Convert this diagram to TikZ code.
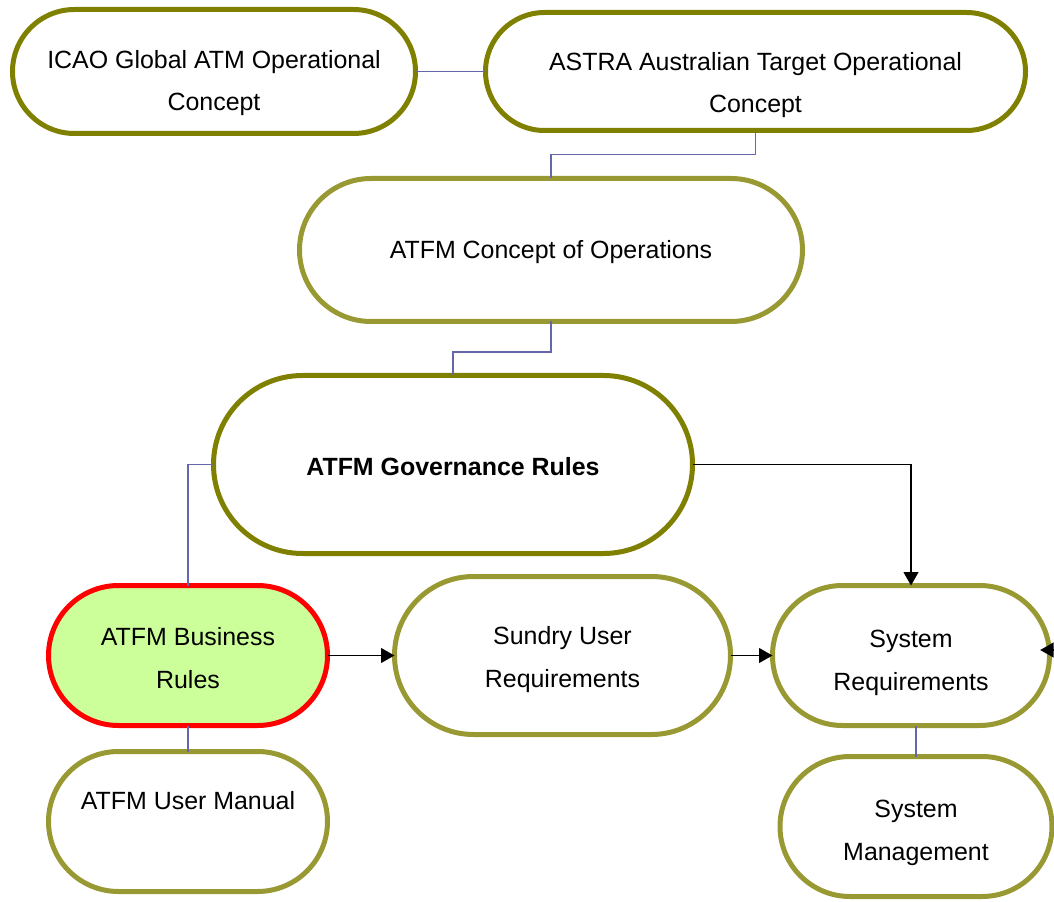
\documentclass[tikz,border=0pt]{standalone}
\usepackage{fontspec}
\setmainfont{Liberation Sans}
\usetikzlibrary{arrows.meta,positioning,shapes.misc}
\definecolor{oliveDark}{RGB}{128,128,0}
\definecolor{oliveLight}{RGB}{153,153,51}
\definecolor{linkBlue}{RGB}{102,102,170}
\definecolor{ruleFill}{RGB}{204,255,153}

\begin{document}
\begin{tikzpicture}[
    x=0.75pt,y=-0.75pt,
    node distance=20pt,
    sink/.style={execute at begin node={\rule{0pt}{#1}}},
    stage/.style={rounded rectangle,draw=oliveDark,line width=3.75pt,fill=white,outer sep=0pt,
                  inner sep=0pt,align=center,font=\fontsize{18.7}{32}\selectfont},
    minor/.style={stage,draw=oliveLight},
    link/.style={draw=linkBlue,line width=1.1pt},
    arrow/.style={-{Triangle[length=10pt,width=11pt]},line width=1.2pt,draw=black}
  ]
    \useasboundingbox (0,0) rectangle (1054,902);
    \node[stage,sink=63pt,minimum width=302.25pt,minimum height=93pt] (icao) at (214,71.5)
          {ICAO Global ATM Operational\\Concept};
    \node[stage,sink=66pt,minimum width=405pt,minimum height=88.5pt,right=52.5pt of icao] (astra)
          {ASTRA Australian Target Operational\\Concept};
    \node[minor,sink=16pt,minimum width=377.25pt,minimum height=107.25pt] (concept) at (551,250)
          {ATFM Concept of Operations};
    \node[stage,sink=16pt,minimum width=359.25pt,minimum height=133.5pt,
          font=\fontsize{18.7}{32}\selectfont\bfseries] (gov) at (453,464.5)
          {ATFM Governance Rules};
    \node[stage,sink=49pt,draw=red,fill=ruleFill,minimum width=209.25pt,minimum height=105pt]
          (business) at (188,655.5) {ATFM Business\\Rules};
    \node[minor,sink=52pt,minimum width=252pt,minimum height=118.5pt,right=50.25pt of business]
          (sundry) {Sundry User\\Requirements};
    \node[minor,sink=56pt,minimum width=207.75pt,minimum height=105pt,right=31.5pt of sundry]
          (sysreq) {System\\Requirements};
    \node[minor,minimum width=209.25pt,minimum height=105pt,below=19.5pt of business] (manual)
          {ATFM User Manual\\\mbox{}};
    \node[minor,sink=55pt,minimum width=204pt,minimum height=105pt,below=23.25pt of sysreq,
          xshift=3.75pt] (sysmgmt) {System\\Management};
    \draw[link] (icao.east) -- (astra.west);
    \draw[link] (astra.south) -- ++(0,24) -| (concept.north);
    \draw[link] (concept.south) -- ++(0,30.5) -| (gov.north);
    \draw[link] (gov.west) -| (business.north);
    \draw[link] (business.south) -- (manual.north);
    \draw[link] (sysmgmt.north) -- (sysmgmt.north |- sysreq.south);
    \draw[arrow] (gov.east) -| (sysreq.north);
    \draw[arrow] (business.east) -- (sundry.west);
    \draw[arrow] (sundry.east) -- (sysreq.west);
    \coordinate (feed) at (1090,650);
    \draw[arrow,shorten >=-7pt] (feed) -- (feed -| sysreq.east);
\end{tikzpicture}
\end{document}
